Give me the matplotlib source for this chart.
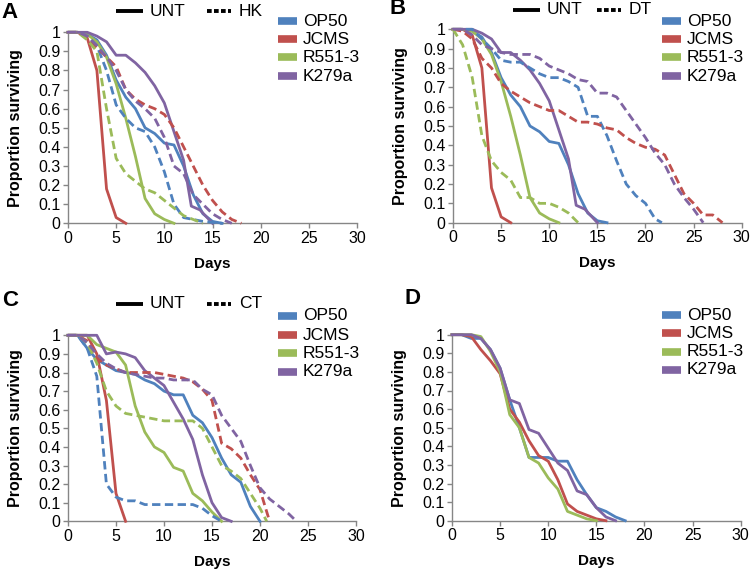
import matplotlib
matplotlib.use("Agg")
import matplotlib.pyplot as plt
from matplotlib.lines import Line2D

plt.rcParams['font.family'] = ['Liberation Sans', 'DejaVu Sans']

strains = ["OP50", "JCMS", "R551-3", "K279a"]
colors = ["#4F81BD", "#C0504D", "#9BBB59", "#8064A2"]

# ---- Untreated (panels A and B) ----
unt_days = {
    "OP50":   [0, 1, 2, 3, 4, 5, 6, 7, 8, 9, 10, 11, 12, 13, 14, 15, 16],
    "JCMS":   [0, 1, 2, 3, 4, 5, 6],
    "R551-3": [0, 1, 2, 3, 4, 5, 6, 7, 8, 9, 10, 11],
    "K279a":  [0, 1, 2, 3, 4, 5, 6, 7, 8, 9, 10, 11, 12, 12.8, 13.7, 15],
}
unt_surv = {
    "OP50":   [1, 1, 0.99, 0.96, 0.88, 0.75, 0.66, 0.6, 0.5, 0.47, 0.42, 0.41, 0.3, 0.15, 0.05, 0.01, 0],
    "JCMS":   [1, 1, 0.97, 0.8, 0.18, 0.03, 0],
    "R551-3": [1, 1, 0.99, 0.95, 0.87, 0.73, 0.55, 0.35, 0.13, 0.05, 0.02, 0],
    "K279a":  [1, 1, 1, 0.98, 0.95, 0.88, 0.88, 0.84, 0.79, 0.72, 0.63, 0.48, 0.33, 0.09, 0.07, 0],
}

# ---- Heat killed (panel A) ----
hk_days = {
    "OP50":   [0, 1, 2, 3, 4, 5, 6, 7, 8, 9, 10, 11, 12, 13, 14, 16],
    "JCMS":   [0, 1, 2, 3, 4, 5, 6, 7, 8, 9, 10, 11, 12, 13, 14, 15, 16, 17, 18],
    "R551-3": [0, 1, 2, 3, 4, 5, 6, 7, 8, 9, 10, 11, 12, 13, 14],
    "K279a":  [0, 1, 2, 3, 4, 5, 6, 7, 8, 9, 10, 11, 12, 13, 14, 15, 16, 17],
}
hk_surv = {
    "OP50":   [1, 1, 0.98, 0.93, 0.8, 0.62, 0.55, 0.5, 0.48, 0.4, 0.27, 0.1, 0.03, 0.02, 0.01, 0],
    "JCMS":   [1, 1, 0.97, 0.92, 0.87, 0.82, 0.7, 0.65, 0.62, 0.6, 0.57, 0.5, 0.4, 0.3, 0.2, 0.12, 0.06, 0.02, 0],
    "R551-3": [1, 1, 0.96, 0.9, 0.6, 0.34, 0.26, 0.22, 0.18, 0.16, 0.12, 0.08, 0.04, 0.02, 0],
    "K279a":  [1, 1, 0.98, 0.93, 0.87, 0.8, 0.7, 0.64, 0.6, 0.55, 0.45, 0.3, 0.26, 0.15, 0.1, 0.05, 0.02, 0],
}

# ---- DT (panel B) ----
dt_days = {
    "OP50":   [0, 1, 2, 3, 4, 5, 6, 7, 8, 9, 10, 11, 12, 13, 14, 15, 16, 17, 18, 19, 20, 21, 21.7],
    "JCMS":   [0, 1, 2, 3, 4, 5, 6, 7, 8, 9, 10, 11, 12, 13, 14, 15, 16, 17, 18, 19, 20, 21, 22, 23, 24, 25, 26, 27, 28],
    "R551-3": [0, 1, 2, 3, 4, 5, 6, 7, 8, 9, 10, 11, 12, 13],
    "K279a":  [0, 1, 2, 3, 4, 5, 6, 7, 8, 9, 10, 11, 12, 13, 14, 15, 16, 17, 18, 19, 20, 21, 22, 23, 24, 25, 26],
}
dt_surv = {
    "OP50":   [1, 1, 1, 0.95, 0.9, 0.84, 0.83, 0.83, 0.8, 0.77, 0.75, 0.75, 0.73, 0.7, 0.55, 0.55, 0.45, 0.32, 0.2, 0.14, 0.1, 0.02, 0],
    "JCMS":   [1, 0.99, 0.95, 0.85, 0.8, 0.72, 0.68, 0.65, 0.62, 0.6, 0.58, 0.58, 0.55, 0.52, 0.52, 0.51, 0.49, 0.48, 0.44, 0.41, 0.39, 0.38, 0.35, 0.25, 0.15, 0.1, 0.04, 0.04, 0],
    "R551-3": [1, 0.92, 0.75, 0.45, 0.32, 0.26, 0.22, 0.13, 0.13, 0.1, 0.1, 0.08, 0.05, 0],
    "K279a":  [1, 1, 0.97, 0.92, 0.9, 0.88, 0.87, 0.87, 0.87, 0.85, 0.81, 0.79, 0.77, 0.74, 0.73, 0.67, 0.67, 0.65, 0.58, 0.51, 0.44, 0.36, 0.3, 0.2, 0.13, 0.07, 0],
}

# ---- Untreated (panel C) ----
untc_days = {
    "OP50":   [0, 1, 2, 3, 4, 5, 6, 7, 8, 9, 10, 11, 12, 13, 14, 15, 16, 17, 18, 19, 20],
    "JCMS":   [0, 1, 2, 3, 4, 5, 6],
    "R551-3": [0, 1, 2, 3, 4, 5, 6, 7, 8, 9, 10, 11, 12, 13, 14, 15, 16],
    "K279a":  [0, 1, 2, 3, 4, 5, 6, 7, 8, 9, 10, 11, 12, 13, 14, 15, 16, 17],
}
untc_surv = {
    "OP50":   [1, 1, 0.93, 0.87, 0.84, 0.81, 0.8, 0.79, 0.76, 0.74, 0.7, 0.68, 0.68, 0.57, 0.53, 0.45, 0.34, 0.25, 0.21, 0.08, 0],
    "JCMS":   [1, 1, 1, 0.9, 0.65, 0.15, 0],
    "R551-3": [1, 1, 1, 0.95, 0.93, 0.91, 0.84, 0.62, 0.48, 0.4, 0.37, 0.29, 0.27, 0.15, 0.11, 0.05, 0],
    "K279a":  [1, 1, 1, 1, 0.9, 0.91, 0.9, 0.88, 0.81, 0.77, 0.73, 0.64, 0.55, 0.44, 0.25, 0.1, 0.02, 0],
}

# ---- CT (panel C) ----
ct_days = {
    "OP50":   [0, 1, 2, 3, 4, 5, 6, 7, 8, 9, 10, 11, 12, 13, 14, 15, 16],
    "JCMS":   [0, 1, 2, 3, 4, 5, 6, 7, 8, 9, 10, 11, 12, 13, 14, 15, 16, 17, 18, 19, 20, 21],
    "R551-3": [0, 1, 2, 3, 4, 5, 6, 7, 8, 9, 10, 11, 12, 13, 14, 15, 16, 17, 18, 19, 20, 20.7],
    "K279a":  [0, 1, 2, 3, 4, 5, 6, 7, 8, 9, 10, 11, 12, 13, 14, 15, 16, 17, 18, 19, 20, 21, 22, 23, 23.8],
}
ct_surv = {
    "OP50":   [1, 1, 0.93, 0.78, 0.2, 0.13, 0.11, 0.11, 0.09, 0.09, 0.09, 0.09, 0.09, 0.09, 0.07, 0.03, 0],
    "JCMS":   [1, 1, 0.97, 0.88, 0.84, 0.82, 0.8, 0.8, 0.8, 0.8, 0.79, 0.78, 0.77, 0.75, 0.71, 0.65, 0.42, 0.39, 0.34, 0.25, 0.17, 0],
    "R551-3": [1, 1, 0.96, 0.85, 0.7, 0.62, 0.58, 0.57, 0.56, 0.55, 0.54, 0.54, 0.54, 0.54, 0.5, 0.4, 0.3, 0.27, 0.23, 0.15, 0.07, 0],
    "K279a":  [1, 1, 0.96, 0.9, 0.85, 0.82, 0.8, 0.79, 0.78, 0.77, 0.77, 0.76, 0.76, 0.76, 0.71, 0.68, 0.57, 0.5, 0.43, 0.3, 0.18, 0.12, 0.08, 0.04, 0],
}

# ---- Panel D ----
d_days = {
    "OP50":   [0, 1, 2, 3, 4, 5, 6, 7, 8, 9, 10, 11, 12, 13, 14, 15, 16, 17, 18],
    "JCMS":   [0, 1, 2, 3, 4, 5, 6, 7, 8, 9, 10, 11, 12, 13, 14, 15, 16],
    "R551-3": [0, 1, 2, 3, 4, 5, 6, 7, 8, 9, 10, 11, 12, 13, 14, 15],
    "K279a":  [0, 1, 2, 3, 4, 5, 6, 7, 8, 9, 10, 11, 12, 13, 14, 15, 16, 17],
}
d_surv = {
    "OP50":   [1, 1, 0.98, 0.98, 0.92, 0.82, 0.65, 0.5, 0.34, 0.34, 0.34, 0.32, 0.32, 0.22, 0.14, 0.07, 0.05, 0.02, 0],
    "JCMS":   [1, 1, 0.99, 0.92, 0.86, 0.79, 0.6, 0.53, 0.43, 0.35, 0.32, 0.22, 0.09, 0.05, 0.03, 0.01, 0],
    "R551-3": [1, 1, 1, 0.99, 0.91, 0.8, 0.57, 0.5, 0.34, 0.31, 0.23, 0.17, 0.05, 0.03, 0.01, 0],
    "K279a":  [1, 1, 1, 0.98, 0.92, 0.82, 0.65, 0.63, 0.49, 0.47, 0.39, 0.31, 0.27, 0.16, 0.14, 0.07, 0.02, 0],
}

W, H = 750, 573
fig = plt.figure(figsize=(7.5, 5.73), dpi=100)

def fx(px):
    return px / W

def fy(py):
    return 1 - py / H

LW = 2.0
DASH = (0, (3, 1.6))

def make_axes(x0, x1, ytop, ybot):
    ax = fig.add_axes([fx(x0), fy(ybot), fx(x1) - fx(x0), fy(ytop) - fy(ybot)])
    ax.set_xlim(0, 30)
    ax.set_ylim(0, 1)
    ax.set_xticks(range(0, 31, 5))
    ax.set_yticks([i / 10 for i in range(11)])
    ax.set_yticklabels(["0", "0.1", "0.2", "0.3", "0.4", "0.5", "0.6", "0.7", "0.8", "0.9", "1"])
    for s in ["top", "right"]:
        ax.spines[s].set_visible(False)
    for s in ["left", "bottom"]:
        ax.spines[s].set_color("#868686")
        ax.spines[s].set_linewidth(1.0)
    ax.tick_params(direction="out", length=3.5, width=1.0, color="#868686", labelsize=11.5, pad=2)
    ax.set_xlabel("Days", fontsize=11, fontweight="bold", labelpad=8)
    ax.set_ylabel("Proportion surviving", fontsize=11.5, fontweight="bold", labelpad=11)
    return ax

def plot_set(ax, days, surv, ls):
    for s, c in zip(strains, colors):
        ax.plot(days[s], surv[s], color=c, lw=LW, ls=ls, clip_on=False, zorder=3)

def color_legend(xh, xt, ys):
    for s, c, y in zip(strains, colors, ys):
        fig.add_artist(Line2D([fx(xh), fx(xh + 19)], [fy(y), fy(y)], color=c, lw=5.5, solid_capstyle="butt"))
        fig.text(fx(xt), fy(y), s, fontsize=12.5, va="center", ha="left")

def style_legend(x_unt, x_tr, y, label):
    fig.add_artist(Line2D([fx(x_unt), fx(x_unt + 27)], [fy(y), fy(y)], color="black", lw=2.8, solid_capstyle="butt"))
    fig.text(fx(x_unt + 34), fy(y), "UNT", fontsize=12.5, va="center", ha="left")
    fig.add_artist(Line2D([fx(x_tr), fx(x_tr + 24)], [fy(y), fy(y)], color="black", lw=2.8, ls=(0, (1.2, 0.6)), dash_capstyle="butt"))
    fig.text(fx(x_tr + 32), fy(y), label, fontsize=12.5, va="center", ha="left")

# Panel A
axA = make_axes(68, 357, 32.3, 223.3)
plot_set(axA, unt_days, unt_surv, "-")
plot_set(axA, hk_days, hk_surv, DASH)
style_legend(116, 207, 11, "HK")
color_legend(278, 303, [21, 39, 57, 76])
fig.text(fx(1), fy(12), "A", fontsize=16, fontweight="bold", va="center", ha="left")

# Panel B
axB = make_axes(453, 741.7, 29.3, 222.7)
plot_set(axB, unt_days, unt_surv, "-")
plot_set(axB, dt_days, dt_surv, DASH)
style_legend(513, 597, 10, "DT")
color_legend(662, 687, [21, 39, 57, 76])
fig.text(fx(389), fy(9), "B", fontsize=16, fontweight="bold", va="center", ha="left")

# Panel C
axC = make_axes(68, 356, 335.3, 521.3)
plot_set(axC, untc_days, untc_surv, "-")
plot_set(axC, ct_days, ct_surv, DASH)
style_legend(116, 207, 304, "CT")
color_legend(278, 303, [316, 335, 353, 372])
fig.text(fx(2), fy(301), "C", fontsize=16, fontweight="bold", va="center", ha="left")

# Panel D
axD = make_axes(452, 740.7, 334.7, 520.7)
plot_set(axD, d_days, d_surv, "-")
color_legend(662, 687, [315, 333, 352, 370])
fig.text(fx(405), fy(298), "D", fontsize=16, fontweight="bold", va="center", ha="left")

fig.savefig("out.png", dpi=100)
